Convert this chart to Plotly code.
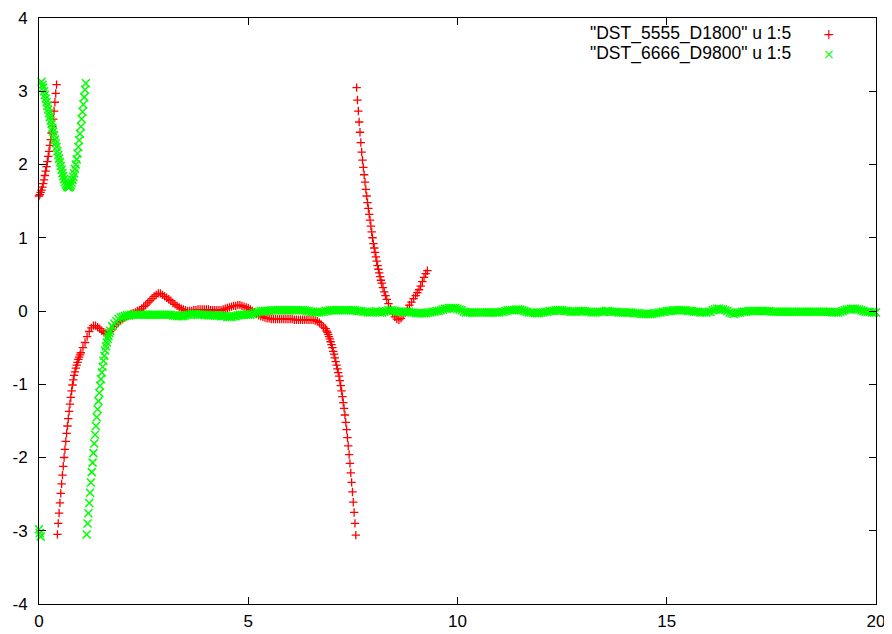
import numpy as np
import plotly.graph_objects as go

# ---------------- red series "DST_5555_D1800" u 1:5 ----------------
red_x1 = [0.00, 0.02, 0.04, 0.06, 0.08, 0.10, 0.12, 0.14, 0.16, 0.18, 0.20,
          0.22, 0.24, 0.26, 0.28, 0.30, 0.32, 0.34, 0.36, 0.38, 0.40, 0.42]
red_y1 = [1.57, 1.59, 1.62, 1.65, 1.69, 1.74, 1.79, 1.85, 1.91, 1.97, 2.04,
          2.11, 2.18, 2.26, 2.34, 2.43, 2.52, 2.62, 2.73, 2.85, 2.97, 3.09]

red_x2 = [0.44, 0.46, 0.48, 0.50, 0.52, 0.54, 0.56, 0.58, 0.60, 0.62, 0.64,
          0.66, 0.68, 0.70, 0.72, 0.74, 0.76, 0.78, 0.80, 0.82, 0.84, 0.86,
          0.88, 0.90, 0.92, 0.94, 0.96, 0.98]
red_y2 = [-3.05, -2.90, -2.76, -2.62, -2.49, -2.36, -2.24, -2.12, -2.00, -1.89, -1.78,
          -1.67, -1.57, -1.47, -1.37, -1.27, -1.18, -1.09, -1.01, -0.94, -0.88, -0.83,
          -0.78, -0.74, -0.70, -0.66, -0.63, -0.60]

# x = 1.00 ... 6.85, step 0.05 (one row per unit of x)
red_mid_start = 1.00
red_mid_y = [
    -0.57, -0.50, -0.43, -0.35, -0.28, -0.23, -0.20, -0.20, -0.22, -0.24,
    -0.27, -0.29, -0.31, -0.31, -0.28, -0.25, -0.21, -0.18, -0.15, -0.13,
    -0.11, -0.09, -0.07, -0.06, -0.04, -0.03, -0.02, 0.00, 0.01, 0.03,
    0.06, 0.08, 0.11, 0.14, 0.17, 0.20, 0.22, 0.24, 0.24, 0.22,
    0.20, 0.18, 0.16, 0.14, 0.11, 0.09, 0.07, 0.05, 0.03, 0.02,
    0.01, 0.00, 0.00, 0.00, 0.01, 0.01, 0.02, 0.02, 0.02, 0.02,
    0.02, 0.02, 0.01, 0.01, 0.01, 0.01, 0.01, 0.01, 0.02, 0.03,
    0.04, 0.05, 0.06, 0.07, 0.07, 0.08, 0.08, 0.07, 0.06, 0.05,
    0.04, 0.02, 0.00, -0.02, -0.04, -0.06, -0.07, -0.08, -0.09, -0.10,
    -0.10, -0.11, -0.11, -0.11, -0.11, -0.11, -0.11, -0.11, -0.11, -0.11,
    -0.11, -0.11, -0.12, -0.12, -0.12, -0.12, -0.12, -0.12, -0.12, -0.12,
    -0.12, -0.12, -0.13, -0.14, -0.16, -0.19, -0.22, -0.24,
]

red_x3 = [6.87, 6.89, 6.91, 6.93, 6.95, 6.97, 6.99, 7.01, 7.03, 7.05, 7.07, 7.09,
          7.11, 7.13, 7.15, 7.17, 7.19, 7.21, 7.23, 7.25, 7.27, 7.29, 7.31, 7.33,
          7.35, 7.37, 7.39, 7.41, 7.43, 7.45, 7.47, 7.49, 7.51, 7.53, 7.55, 7.57]
red_y3 = [-0.27, -0.29, -0.32, -0.35, -0.38, -0.42, -0.46, -0.50, -0.55, -0.59, -0.64, -0.69,
          -0.74, -0.79, -0.84, -0.89, -0.95, -1.02, -1.09, -1.17, -1.25, -1.33, -1.42, -1.52,
          -1.62, -1.73, -1.84, -1.96, -2.08, -2.21, -2.34, -2.47, -2.61, -2.75, -2.90, -3.06]

red_x4 = [7.59, 7.61, 7.63, 7.65, 7.67, 7.69, 7.71, 7.73, 7.75, 7.77, 7.79, 7.81,
          7.83, 7.85, 7.87, 7.89, 7.91, 7.93, 7.95, 7.97, 7.99, 8.01, 8.03, 8.05,
          8.07, 8.09, 8.11, 8.13, 8.15, 8.17, 8.19, 8.22, 8.25, 8.28, 8.31, 8.35,
          8.40, 8.45, 8.50, 8.55, 8.60, 8.65, 8.70, 8.75, 8.80, 8.85, 8.90, 8.95,
          9.00, 9.04, 9.08, 9.12, 9.16, 9.20, 9.24, 9.28]
red_y4 = [3.05, 2.88, 2.73, 2.58, 2.44, 2.30, 2.17, 2.06, 1.96, 1.86, 1.76, 1.66,
          1.57, 1.48, 1.40, 1.32, 1.24, 1.16, 1.08, 1.00, 0.92, 0.86, 0.80, 0.74,
          0.68, 0.62, 0.57, 0.52, 0.47, 0.42, 0.38, 0.32, 0.26, 0.21, 0.16, 0.10,
          0.03, -0.03, -0.08, -0.11, -0.12, -0.10, -0.06, -0.02, 0.03, 0.08, 0.12, 0.17,
          0.21, 0.25, 0.29, 0.34, 0.40, 0.46, 0.51, 0.55]

# ---------------- green series "DST_6666_D9800" u 1:5 ----------------
green_x0 = [0.00, 0.02, 0.04]
green_y0 = [-2.98, -3.03, -3.08]

green_x1 = [0.06, 0.08, 0.10, 0.12, 0.14, 0.16, 0.18, 0.20, 0.22, 0.24, 0.26, 0.28,
            0.30, 0.32, 0.34, 0.36, 0.38, 0.40, 0.42, 0.44, 0.46, 0.48, 0.50, 0.52,
            0.54, 0.56, 0.58, 0.60, 0.62, 0.64, 0.66, 0.68, 0.70, 0.72, 0.74, 0.76,
            0.78, 0.80, 0.82, 0.84, 0.86, 0.88, 0.90, 0.92, 0.94, 0.96, 0.98, 1.00,
            1.02, 1.04, 1.06, 1.08, 1.10, 1.12]
green_y1 = [3.13, 3.09, 3.05, 3.00, 2.95, 2.90, 2.85, 2.80, 2.75, 2.70, 2.65, 2.60,
            2.55, 2.50, 2.45, 2.40, 2.34, 2.29, 2.24, 2.18, 2.13, 2.08, 2.03, 1.98,
            1.93, 1.88, 1.84, 1.80, 1.76, 1.73, 1.71, 1.70, 1.69, 1.69, 1.70, 1.72,
            1.75, 1.79, 1.83, 1.88, 1.94, 2.00, 2.07, 2.15, 2.24, 2.33, 2.42, 2.52,
            2.62, 2.72, 2.82, 2.92, 3.02, 3.11]

green_x2 = [1.14, 1.16, 1.18, 1.20, 1.22, 1.24, 1.26, 1.28, 1.30, 1.32, 1.34, 1.36,
            1.38, 1.40, 1.42, 1.44, 1.46, 1.48, 1.50, 1.52, 1.54, 1.56, 1.58, 1.60,
            1.62, 1.64, 1.66, 1.68, 1.70, 1.75, 1.80, 1.85, 1.90, 1.95]
green_y2 = [-3.05, -2.90, -2.76, -2.62, -2.48, -2.34, -2.20, -2.07, -1.94, -1.81, -1.69, -1.57,
            -1.45, -1.34, -1.23, -1.12, -1.02, -0.93, -0.84, -0.76, -0.68, -0.61, -0.54, -0.48,
            -0.43, -0.38, -0.34, -0.30, -0.27, -0.21, -0.17, -0.14, -0.11, -0.09]

# x = 2.00 ... 20.00, step 0.05 (one row per unit of x)
green_flat_start = 2.00
green_flat_y = [
    -0.08, -0.07, -0.06, -0.06, -0.05, -0.05, -0.05, -0.05, -0.05, -0.05, -0.05, -0.05, -0.05, -0.05, -0.05, -0.05, -0.05, -0.05, -0.05, -0.05,
    -0.05, -0.05, -0.05, -0.05, -0.06, -0.06, -0.07, -0.07, -0.07, -0.07, -0.06, -0.05, -0.05, -0.04, -0.04, -0.04, -0.05, -0.05, -0.05, -0.05,
    -0.05, -0.06, -0.06, -0.06, -0.06, -0.06, -0.06, -0.07, -0.07, -0.07, -0.08, -0.08, -0.08, -0.07, -0.07, -0.06, -0.05, -0.05, -0.05, -0.05,
    -0.05, -0.05, -0.04, -0.03, -0.02, -0.01, 0.00, 0.00, 0.00, 0.00, 0.00, 0.01, 0.01, 0.01, 0.01, 0.01, 0.01, 0.01, 0.01, 0.01,
    0.01, 0.01, 0.01, 0.01, 0.01, 0.01, 0.01, 0.01, 0.00, 0.00, -0.01, -0.01, -0.02, -0.02, -0.02, -0.01, -0.01, 0.00, 0.00, 0.01,
    0.01, 0.01, 0.01, 0.01, 0.01, 0.01, 0.01, 0.01, 0.01, 0.01, 0.01, 0.01, 0.00, 0.00, 0.00, -0.01, -0.01, -0.02, -0.02, -0.02,
    -0.01, 0.00, -0.01, -0.02, -0.02, -0.01, 0.00, 0.01, 0.01, 0.01, 0.00, -0.01, -0.01, -0.01, -0.01, -0.01, -0.01, -0.01, -0.02, -0.02,
    -0.03, -0.03, -0.03, -0.03, -0.03, -0.03, -0.02, -0.02, -0.01, -0.01, 0.00, 0.00, 0.01, 0.02, 0.03, 0.03, 0.04, 0.04, 0.04, 0.04,
    0.03, 0.02, 0.01, -0.01, -0.02, -0.02, -0.02, -0.02, -0.02, -0.02, -0.02, -0.02, -0.02, -0.02, -0.02, -0.02, -0.02, -0.02, -0.02, -0.02,
    -0.02, -0.01, -0.01, 0.00, 0.01, 0.01, 0.01, 0.01, 0.02, 0.02, 0.02, 0.01, 0.00, -0.01, -0.02, -0.02, -0.02, -0.03, -0.03, -0.03,
    -0.02, -0.02, -0.01, -0.01, 0.00, 0.00, 0.00, 0.01, 0.01, 0.01, 0.01, 0.00, 0.00, 0.00, -0.01, -0.01, -0.01, -0.01, 0.00, 0.00,
    0.00, 0.00, -0.01, -0.01, -0.02, -0.02, -0.02, -0.01, -0.01, -0.01, -0.01, 0.00, 0.00, -0.01, -0.01, -0.01, -0.01, -0.02, -0.02, -0.02,
    -0.02, -0.02, -0.02, -0.02, -0.03, -0.03, -0.03, -0.03, -0.04, -0.04, -0.04, -0.04, -0.04, -0.04, -0.03, -0.03, -0.02, -0.02, -0.01, -0.01,
    0.00, 0.00, 0.00, 0.01, 0.01, 0.01, 0.01, 0.01, 0.01, 0.01, 0.00, 0.00, 0.00, -0.01, -0.01, -0.01, -0.02, -0.02, -0.02, -0.02,
    -0.01, -0.01, 0.01, 0.02, 0.03, 0.03, 0.02, 0.02, 0.01, 0.00, -0.02, -0.03, -0.04, -0.03, -0.02, -0.02, -0.01, -0.01, -0.01, 0.00,
    0.00, 0.00, 0.00, 0.00, 0.00, 0.00, 0.00, 0.00, 0.00, 0.00, -0.01, -0.01, -0.01, -0.01, -0.01, -0.01, -0.01, -0.01, -0.01, -0.01,
    -0.01, -0.01, -0.01, -0.01, -0.01, -0.01, -0.01, -0.01, -0.01, -0.01, -0.01, -0.01, -0.01, -0.01, -0.01, -0.01, -0.01, -0.01, -0.01, -0.02,
    -0.02, -0.02, -0.02, -0.01, 0.00, 0.01, 0.02, 0.02, 0.03, 0.03, 0.03, 0.02, 0.02, 0.01, 0.00, -0.01, -0.01, -0.01, -0.02, -0.02,
    -0.02,
]

x_ticks = [0, 5, 10, 15, 20]
y_ticks = [-4, -3, -2, -1, 0, 1, 2, 3, 4]
red_name = '"DST_5555_D1800" u 1:5'
green_name = '"DST_6666_D9800" u 1:5'
RED = "#ff0000"
GREEN = "#00ff00"

red_mid_x = list(np.round(red_mid_start + 0.05 * np.arange(len(red_mid_y)), 2))
green_flat_x = list(np.round(green_flat_start + 0.05 * np.arange(len(green_flat_y)), 2))

red_x = red_x1 + red_x2 + red_mid_x + red_x3 + red_x4
red_y = red_y1 + red_y2 + red_mid_y + red_y3 + red_y4
green_x = green_x0 + green_x1 + green_x2 + green_flat_x
green_y = green_y0 + green_y1 + green_y2 + green_flat_y

FONT = "Liberation Sans, Arial, Helvetica, sans-serif"

fig = go.Figure()
fig.add_trace(go.Scatter(
    x=red_x, y=red_y, mode="markers", name=red_name, cliponaxis=False,
    marker=dict(symbol="cross-thin", size=6, color=RED, line=dict(color=RED, width=1.3)),
))
fig.add_trace(go.Scatter(
    x=green_x, y=green_y, mode="markers", name=green_name, cliponaxis=False,
    marker=dict(symbol="x-thin", size=8, color=GREEN, line=dict(color=GREEN, width=1.5)),
))

axis_common = dict(
    showline=True, linecolor="black", linewidth=1, mirror="ticks",
    ticks="inside", ticklen=7, tickwidth=1, tickcolor="black",
    showgrid=False, zeroline=False, automargin=False,
    tickfont=dict(family=FONT, size=17, color="black"),
)
fig.update_xaxes(range=[0, 20], tickvals=x_ticks, ticktext=[str(v) for v in x_ticks],
                 ticklabelstandoff=2, **axis_common)
fig.update_yaxes(range=[-4, 4], tickvals=y_ticks, ticktext=[str(v) for v in y_ticks],
                 ticklabelstandoff=7, **axis_common)

# gnuplot-style key: text right-aligned, sample symbol to its right
key_rows = [(red_name, "+", RED, 0.9727), (green_name, "×", GREEN, 0.9386)]
for name, sym, col, ypos in key_rows:
    fig.add_annotation(xref="paper", yref="paper", x=0.9008, y=ypos, text=name,
                       showarrow=False, xanchor="right", yanchor="middle",
                       font=dict(family=FONT, size=17.5, color="black"))
    fig.add_annotation(xref="paper", yref="paper", x=0.9438, y=ypos, text=sym,
                       showarrow=False, xanchor="center", yanchor="middle",
                       font=dict(family="DejaVu Sans", size=14, color=col))

# the page body adds an 8px offset; margins are set so the frame lands at
# x 39..876 and y 18..604 in the window
fig.update_layout(
    template="none",
    width=884, height=626,
    margin=dict(l=31, r=16, t=10, b=30),
    paper_bgcolor="white", plot_bgcolor="white",
    showlegend=False,
    font=dict(family=FONT, size=17, color="black"),
)

fig.write_html("out.html")
